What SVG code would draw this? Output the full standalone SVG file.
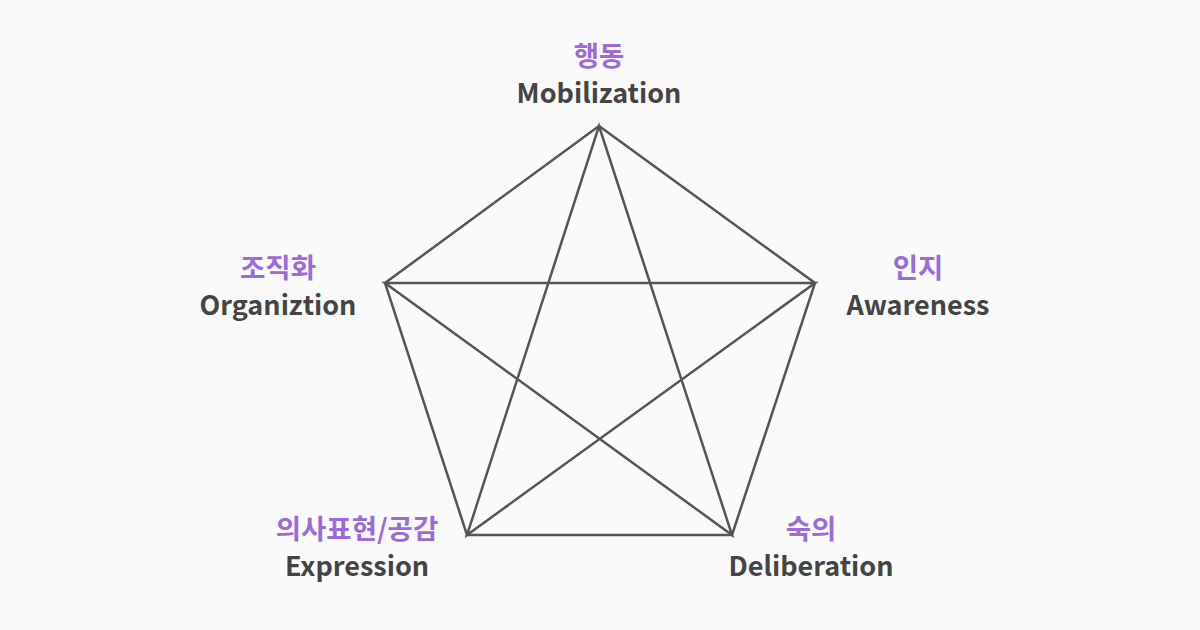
<svg xmlns="http://www.w3.org/2000/svg" width="1200" height="630" viewBox="0 0 1200 630">
<style>
.ko{font-family:"Noto Sans CJK KR","Noto Sans",sans-serif;font-size:27.5px;font-weight:700;fill:#9b6bd9;text-anchor:middle}
.en{font-family:"Noto Sans CJK KR","Noto Sans",sans-serif;font-size:27px;font-weight:700;fill:#444444;text-anchor:middle}
.ln{fill:none;stroke:#555555;stroke-width:2.5;stroke-linejoin:miter}
</style>
<rect width="1200" height="630" fill="#fafafa"/>
<g id="connectors">
<polygon class="ln" points="599,126 815,283 732,535 467,535 385,283"/>
<polygon class="ln" points="599,126 732,535 385,283 815,283 467,535"/>
</g>
<g id="mobilization"><text class="ko" x="599" y="66">행동</text><text class="en" x="599" y="103">Mobilization</text></g>
<g id="organization"><text class="ko" x="278" y="278">조직화</text><text class="en" x="278" y="315">Organiztion</text></g>
<g id="awareness"><text class="ko" x="918" y="278">인지</text><text class="en" x="918" y="315">Awareness</text></g>
<g id="expression"><text class="ko" x="357" y="539">의사표현/공감</text><text class="en" x="357" y="576">Expression</text></g>
<g id="deliberation"><text class="ko" x="811" y="539">숙의</text><text class="en" x="811" y="576">Deliberation</text></g>
</svg>
